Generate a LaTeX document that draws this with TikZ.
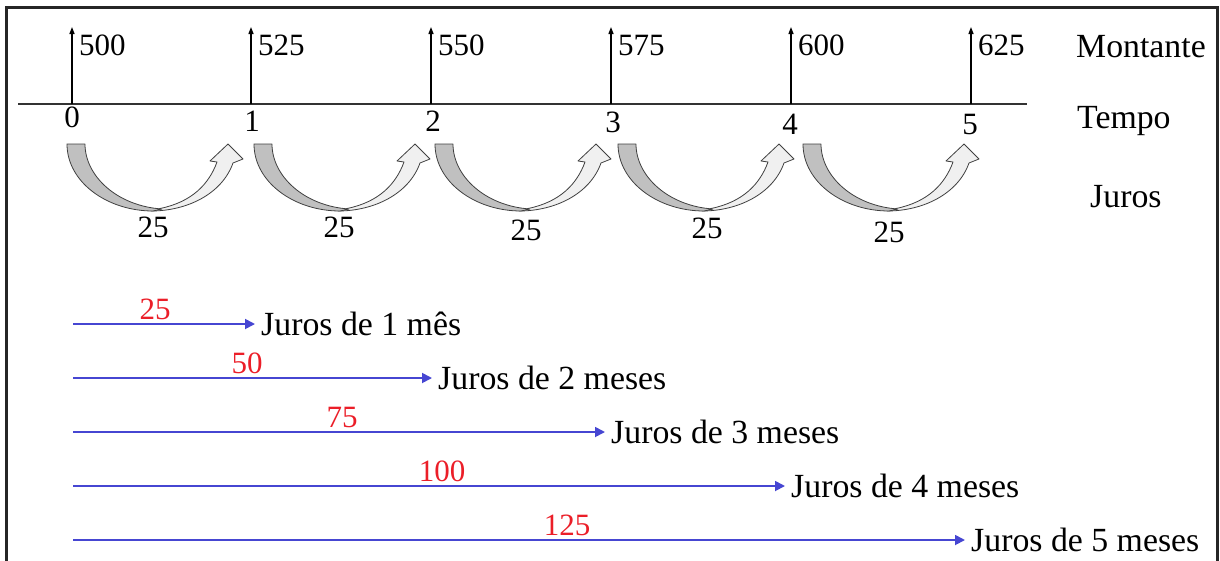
\documentclass[tikz,border=0pt]{standalone}
\usepackage{fontspec}
\setmainfont{Liberation Serif}
\usetikzlibrary{arrows.meta}
\definecolor{bl}{RGB}{70,70,210}
\definecolor{rd}{RGB}{235,30,40}
\definecolor{dk}{RGB}{192,192,192}
\definecolor{lt}{RGB}{240,240,240}
\tikzset{
  num/.style={font=\fontsize{31}{36}\selectfont, inner sep=0pt, anchor=base},
  wrd/.style={font=\fontsize{33.8}{38}\selectfont, inner sep=0pt, anchor=base west},
  rnum/.style={num, text=rd},
  barrow/.style={draw=bl, line width=1.8pt, -{Triangle[length=10pt,width=10pt]}},
  uparrow/.style={draw=black, line width=1.3pt, -{Triangle[length=7pt,width=5pt]}},
  curv/.pic={
    \path[fill=lt, draw=black!75, line width=0.8pt, line join=round]
      (84,67) .. controls (120,67) and (155,50) .. (166,19) -- (176,15) -- (161,0) -- (143,17) -- (150,18)
      .. controls (142,40) and (125,58) .. (93,64.5) -- cycle;
    \path[fill=dk, draw=black!75, line width=0.8pt, line join=round]
      (0,0) -- (18,0) .. controls (18,32) and (50,62) .. (95,65) -- (86,67)
      .. controls (40,67) and (0,38) .. (0,0) -- cycle;
  }
}
\begin{document}
\begin{tikzpicture}[x=1pt,y=-1pt]
\useasboundingbox (0,0) rectangle (1220,560);
% frame
\draw[line width=2.2pt, black!85] (6.5,565) -- (6.5,7.5) -- (1217.5,7.5) -- (1217.5,565);
% axis
\coordinate (axl) at (18,104);
\coordinate (axr) at (1027,104);
\draw[line width=1.5pt, black!80] (axl) -- (axr);
% ticks, amounts, times
\foreach \i/\x/\m/\tb/\tx in {0/72/500/127/72, 1/251/525/131/252, 2/431/550/131/433, 3/611/575/132/613, 4/791/600/134/790, 5/971/625/134/970}{
  \coordinate (t\i) at (\x,104);
  \coordinate (u\i) at (\x,27);
  \draw[uparrow] (t\i) -- (u\i);
  \node[num, anchor=base west] (m\i) at (\x+7,55) {\m};
  \node[num] (n\i) at (\tx,\tb) {\i};
}
% right labels
\node[wrd] (mont) at (1076,57) {Montante};
\node[wrd] (temp) at (1077,128) {Tempo};
\node[wrd] (jur) at (1090,207) {Juros};
% curved arrows
\foreach \k/\L/\cx/\cb in {1/67/153/237, 2/254/339/237, 3/435/526/240, 4/618/707/238, 5/803/889/242}{
  \pic at (\L,144) {curv};
  \node[num] (c\k) at (\cx,\cb) {25};
}
% interest rows
\foreach \k/\y/\tip/\rx/\rv/\txt in {1/324/255/155/25/Juros de 1 mês, 2/378/432/247/50/Juros de 2 meses, 3/432/605/342/75/Juros de 3 meses, 4/486/785/442/100/Juros de 4 meses, 5/540/965/567/125/Juros de 5 meses}{
  \coordinate (s\k) at (73,\y);
  \coordinate (e\k) at (\tip,\y);
  \draw[barrow] (s\k) -- (e\k);
  \node[rnum] (r\k) at (\rx,\y-5) {\rv};
  \node[wrd] (j\k) at (\tip+6,\y+11) {\txt};
}
\end{tikzpicture}
\end{document}
